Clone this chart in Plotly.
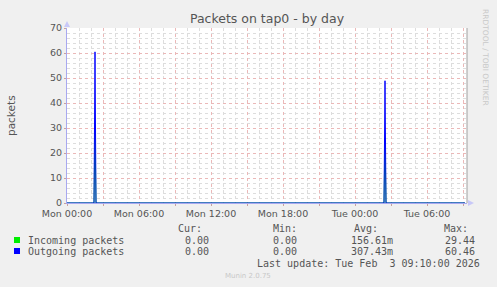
import plotly.graph_objects as go

# ---- data -------------------------------------------------------------
times = [
    "2026-02-02 00:00", "2026-02-02 02:15", "2026-02-02 02:20", "2026-02-02 02:25",
    "2026-02-03 02:25", "2026-02-03 02:30", "2026-02-03 02:35", "2026-02-03 09:10",
]
incoming = [0, 0, 29.44, 0, 0, 26.0, 0, 0]
outgoing = [0, 0, 60.46, 0, 0, 48.9, 0, 0]

series_names = ["Incoming packets", "Outgoing packets"]
series_colors = ["#00EE00", "#0000FF"]
stat_headers = ["Cur:", "Min:", "Avg:", "Max:"]
stats_in = ["0.00", "0.00", "156.61m", "29.44"]
stats_out = ["0.00", "0.00", "307.43m", "60.46"]

tick_vals = [
    "2026-02-02 00:00", "2026-02-02 03:00", "2026-02-02 06:00", "2026-02-02 09:00",
    "2026-02-02 12:00", "2026-02-02 15:00", "2026-02-02 18:00", "2026-02-02 21:00",
    "2026-02-03 00:00", "2026-02-03 03:00", "2026-02-03 06:00", "2026-02-03 09:00",
]
tick_text = ["Mon 00:00", "", "Mon 06:00", "", "Mon 12:00", "", "Mon 18:00", "",
             "Tue 00:00", "", "Tue 06:00", ""]
x_range = ["2026-02-02 00:00", "2026-02-03 09:20"]

# ---- page geometry (pixels) ---------------------------------------------
W, H = 497, 287
L, R, T, B = 67, 467, 28, 203   # plot box edges


def px(x):
    return (x - L) / (R - L)


def py(y):
    return (B - y) / (B - T)


TXT = "#555555"
MONO = "DejaVu Sans Mono"
SANS = "DejaVu Sans"
MAJOR_GRID = "#EBB8B8"
MINOR_GRID = "#DDDDDD"

fig = go.Figure()
for name, vals, col in zip(series_names, [incoming, outgoing], series_colors):
    fig.add_trace(go.Scatter(x=times, y=vals, mode="lines", name=name,
                             line=dict(color=col, width=1.0), hoverinfo="skip"))

fig.update_layout(
    width=W, height=H,
    margin=dict(l=L, r=W - R, t=T, b=H - B),
    paper_bgcolor="#F0F0F0", plot_bgcolor="#FFFFFF",
    showlegend=False,
    font=dict(family=SANS, color=TXT),
    title=dict(text="Packets on tap0 - by day", x=0.5, xref="paper",
               y=1 - 19 / H, yanchor="middle",
               font=dict(family=SANS, size=12.5, color=TXT)),
)

fig.update_xaxes(
    type="date", range=x_range, tickvals=tick_vals, ticktext=tick_text,
    showgrid=True, gridcolor=MAJOR_GRID, griddash="dot", gridwidth=1,
    minor=dict(dtick=3600000, showgrid=True, gridcolor=MINOR_GRID, griddash="dot"),
    showline=True, linecolor="#A8A8F0", linewidth=1,
    ticks="outside", ticklen=2, tickcolor="#C8A0A0",
    tickfont=dict(family=SANS, size=9.5, color=TXT), zeroline=False,
)
fig.update_yaxes(
    range=[0, 70], dtick=10, tick0=0,
    showgrid=True, gridcolor=MAJOR_GRID, griddash="dot", gridwidth=1,
    minor=dict(dtick=2, showgrid=True, gridcolor=MINOR_GRID, griddash="dot"),
    showline=True, linecolor="#A8A8F0", linewidth=1,
    ticks="outside", ticklen=2, tickcolor="#C8A0A0",
    tickfont=dict(family=SANS, size=9.5, color=TXT), zeroline=False,
)

shapes = [
    # right frame
    dict(type="line", xref="paper", yref="paper", x0=px(467), x1=px(467),
         y0=py(28), y1=py(203), line=dict(color="#A0A0A0", width=1)),
    # y-axis arrow
    dict(type="path", xref="paper", yref="paper", line=dict(width=0), fillcolor="#C8C8F8",
         path=f"M {px(64)} {py(27)} L {px(70)} {py(27)} L {px(67)} {py(21)} Z"),
    # x-axis arrow
    dict(type="path", xref="paper", yref="paper", line=dict(width=0), fillcolor="#C8C8F8",
         path=f"M {px(468)} {py(200)} L {px(468)} {py(206)} L {px(474)} {py(203)} Z"),
]

ann = []


def text(x, y, s, anchor="left", size=10, family=MONO, color=TXT, angle=0):
    ann.append(dict(x=px(x), y=py(y), xref="paper", yref="paper", text=s,
                    showarrow=False, xanchor=anchor, yanchor="middle",
                    textangle=angle, font=dict(family=family, size=size, color=color)))


# vertical axis label
text(11, 115, "packets", anchor="center", size=10.5, family=SANS, angle=-90)

# statistic column headers and values (right-aligned)
head_right = [204, 299, 380, 470]
val_right = [211, 299, 395, 477]
for h, xr in zip(stat_headers, head_right):
    text(xr, 228, h, anchor="right")

row_y = [240, 251]
for name, col, stats, yy in zip(series_names, series_colors, [stats_in, stats_out], row_y):
    shapes.append(dict(type="rect", xref="paper", yref="paper",
                       x0=px(14), x1=px(20), y0=py(yy + 3), y1=py(yy - 3),
                       fillcolor=col, line=dict(width=0)))
    text(26, yy, name)
    for v, xr in zip(stats, val_right):
        text(xr, yy, v, anchor="right")

text(482, 263, "Last update: Tue Feb  3 09:10:00 2026".replace("  ", "&nbsp; "), anchor="right")
text(248, 276, "Munin 2.0.75", anchor="center", size=7, family=SANS, color="#C8C8C8")
text(486, 57, "RRDTOOL / TOBI OETIKER", anchor="center", size=7.5, family=SANS,
     color="#C8C8C8", angle=90)

fig.update_layout(shapes=shapes, annotations=ann)
fig.write_html("out.html")
